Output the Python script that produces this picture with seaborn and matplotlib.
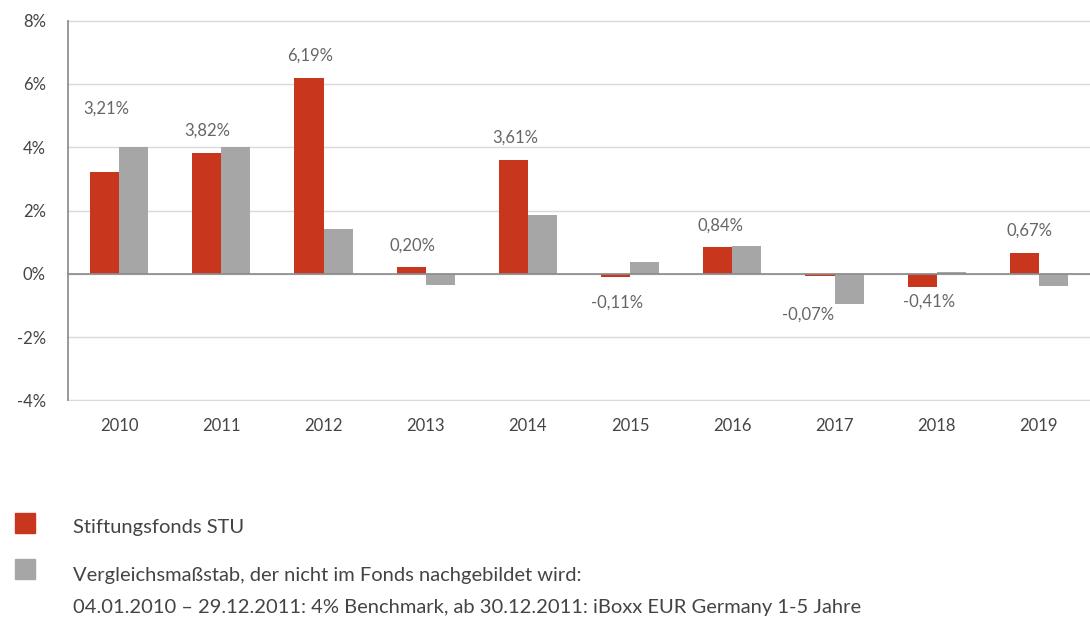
import numpy as np
import pandas as pd
import matplotlib
matplotlib.use("Agg")
import matplotlib.pyplot as plt
from matplotlib.patches import Rectangle
import seaborn as sns

# data (annual returns in %)
years = ["2010", "2011", "2012", "2013", "2014", "2015", "2016", "2017", "2018", "2019"]
fonds = [3.21, 3.82, 6.19, 0.20, 3.61, -0.11, 0.84, -0.07, -0.41, 0.67]
benchmark = [4.00, 4.00, 1.42, -0.35, 1.86, 0.37, 0.87, -0.96, 0.05, -0.40]
series_names = ["Stiftungsfonds STU", "Vergleichsmaßstab"]

# label offsets (pixels) for the fund value labels
label_dx = [2, 1, 1, 1, 2, 2, 3, -12, 7, 5]
label_dy = [64, 22, 22, 22, 22, -25, 22, -39, -15, 22]

red = "#C8371D"
grey = "#A6A6A6"
text_col = "#666666"
dark_col = "#444444"

sns.set_theme(style="white")
plt.rcParams["font.family"] = ["Lato", "DejaVu Sans"]

df = pd.DataFrame({
    "Jahr": years * 2,
    "Rendite": fonds + benchmark,
    "Serie": [series_names[0]] * len(years) + [series_names[1]] * len(years),
})

fig = plt.figure(figsize=(10.9, 6.2), dpi=100)
ax = fig.add_axes([68 / 1090, 1 - 401 / 620, 1 - 68 / 1090, 381 / 620])

bar_w = 0.57
sns.barplot(data=df, x="Jahr", y="Rendite", hue="Serie", palette=[red, grey],
            width=bar_w, gap=0, linewidth=0, saturation=1, legend=False, ax=ax)

ax.set_xlim(-0.5, len(years) - 0.5)
ax.set_ylim(-4.02, 8.02)
ax.set_yticks(np.arange(-4, 9, 2))
ax.set_yticklabels([f"{v}%" for v in range(-4, 9, 2)])
ax.yaxis.grid(True, color="#D9D9D9", linewidth=1)
ax.set_axisbelow(True)
ax.set_xlabel("")
ax.set_ylabel("")

for s in ["top", "right"]:
    ax.spines[s].set_visible(False)
ax.spines["left"].set_color("#8C8C8C")
ax.spines["left"].set_bounds(-4, 8)
ax.spines["bottom"].set_position(("data", 0))
ax.spines["bottom"].set_color("#8C8C8C")

# ticks between the categories on the zero line
ax.set_xticks(np.arange(len(years)))
ax.set_xticklabels([])
ax.set_xticks(np.arange(0.5, len(years) - 0.5, 1), minor=True)
ax.tick_params(axis="x", which="major", length=0)
ax.tick_params(axis="x", which="minor", length=6, color="#8C8C8C", width=1)
ax.tick_params(axis="y", length=6, color="#8C8C8C", width=1, pad=10,
               labelsize=12, labelcolor=dark_col)

# year labels at the bottom of the plot area
sec = ax.secondary_xaxis("bottom")
sec.set_xticks(np.arange(len(years)))
sec.set_xticklabels(years)
sec.tick_params(length=0, pad=12, labelsize=12, labelcolor=dark_col)
sec.spines["bottom"].set_visible(False)

for i, v in enumerate(fonds):
    ax.annotate(f"{v:.2f}".replace(".", ",") + "%", xy=(i - bar_w / 4, v),
                xytext=(label_dx[i], label_dy[i]), textcoords="offset pixels",
                ha="center", va="center", fontsize=12, color=text_col)

# legend
fig.add_artist(Rectangle((15 / 1090, 1 - 533 / 620), 20 / 1090, 20 / 620,
                         transform=fig.transFigure, color=red))
fig.add_artist(Rectangle((15 / 1090, 1 - 579 / 620), 20 / 1090, 20 / 620,
                         transform=fig.transFigure, color=grey))
fig.text(73 / 1090, 1 - 527 / 620, "Stiftungsfonds STU", fontsize=14.5,
         color=dark_col, va="center")
fig.text(73 / 1090, 1 - 576 / 620, "Vergleichsmaßstab, der nicht im Fonds nachgebildet wird:",
         fontsize=14.5, color=dark_col, va="center")
fig.text(73 / 1090, 1 - 608 / 620,
         "04.01.2010 \u2013 29.12.2011: 4% Benchmark, ab 30.12.2011: iBoxx EUR Germany 1-5 Jahre",
         fontsize=14.5, color=dark_col, va="center")

fig.savefig("out.png", dpi=100)
